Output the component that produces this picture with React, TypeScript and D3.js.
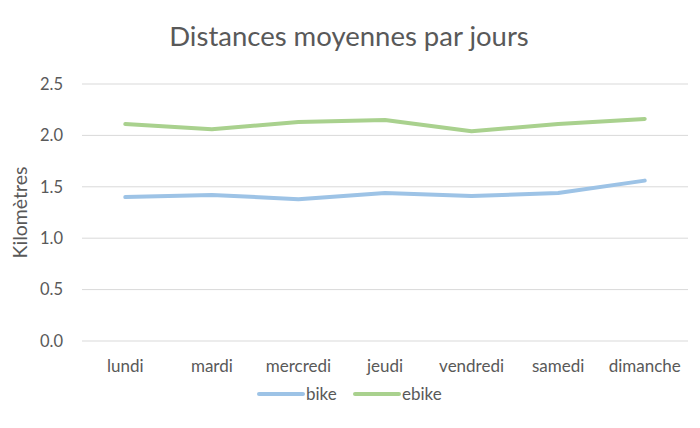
import React, { useEffect, useRef } from 'react';
import * as d3 from 'd3';

const days = ['lundi', 'mardi', 'mercredi', 'jeudi', 'vendredi', 'samedi', 'dimanche'];
const bike = [1.4, 1.42, 1.38, 1.44, 1.41, 1.44, 1.56];
const ebike = [2.11, 2.06, 2.13, 2.15, 2.04, 2.11, 2.16];
const yTicks = [0, 0.5, 1, 1.5, 2, 2.5];
const seriesNames = ['bike', 'ebike'];
const seriesColors = ['#9dc3e6', '#a9d18e'];

const App: React.FC = () => {
  const svgRef = useRef<SVGSVGElement | null>(null);

  useEffect(() => {
    if (!svgRef.current) return;

    const width = 700;
    const height = 428;
    const margin = { top: 84, right: 12, bottom: 87, left: 82 };
    const font = 'Lato, "Open Sans", sans-serif';

    const svg = d3.select(svgRef.current);
    svg.selectAll('*').remove();

    svg.append('rect').attr('width', width).attr('height', height).attr('fill', '#fff');

    const xScale = d3
      .scaleBand()
      .domain(days)
      .range([margin.left, width - margin.right]);

    const yScale = d3
      .scaleLinear()
      .domain([0, 2.5])
      .range([height - margin.bottom, margin.top]);

    // gridlines
    svg
      .append('g')
      .selectAll('line')
      .data(yTicks)
      .enter()
      .append('line')
      .attr('x1', margin.left)
      .attr('x2', width - margin.right)
      .attr('y1', (d) => yScale(d))
      .attr('y2', (d) => yScale(d))
      .attr('stroke', '#d9d9d9')
      .attr('stroke-width', 1);

    // y tick labels
    svg
      .append('g')
      .selectAll('text')
      .data(yTicks)
      .enter()
      .append('text')
      .attr('x', 63)
      .attr('y', (d) => yScale(d))
      .attr('dy', '0.35em')
      .attr('text-anchor', 'end')
      .attr('font-family', font)
      .attr('font-size', 16.5)
      .attr('fill', '#595959')
      .text((d) => d.toFixed(1));

    // x labels
    svg
      .append('g')
      .selectAll('text')
      .data(days)
      .enter()
      .append('text')
      .attr('x', (d) => xScale(d)! + xScale.bandwidth() / 2)
      .attr('y', 372)
      .attr('text-anchor', 'middle')
      .attr('font-family', font)
      .attr('font-size', 17)
      .attr('fill', '#595959')
      .text((d) => d);

    const line = d3
      .line<number>()
      .x((d, i) => xScale(days[i])! + xScale.bandwidth() / 2)
      .y((d) => yScale(d));

    [bike, ebike].forEach((vals, i) => {
      svg
        .append('path')
        .datum(vals)
        .attr('d', line)
        .attr('fill', 'none')
        .attr('stroke', seriesColors[i])
        .attr('stroke-width', 4)
        .attr('stroke-linecap', 'round')
        .attr('stroke-linejoin', 'round');
    });

    // title
    svg
      .append('text')
      .attr('x', 349)
      .attr('y', 46)
      .attr('text-anchor', 'middle')
      .attr('font-family', font)
      .attr('font-size', 27.5)
      .attr('fill', '#595959')
      .text('Distances moyennes par jours');

    // y axis title
    svg
      .append('text')
      .attr('transform', `translate(27, ${(margin.top + height - margin.bottom) / 2}) rotate(-90)`)
      .attr('text-anchor', 'middle')
      .attr('font-family', font)
      .attr('font-size', 19.5)
      .attr('fill', '#595959')
      .text('Kilomètres');

    // legend
    const legendX = [259, 355];
    const legend = svg
      .append('g')
      .selectAll('g')
      .data(seriesNames)
      .enter()
      .append('g')
      .attr('transform', (d, i) => `translate(${legendX[i]}, 394)`);

    legend
      .append('line')
      .attr('x1', 0)
      .attr('x2', 44)
      .attr('stroke', (d, i) => seriesColors[i])
      .attr('stroke-width', 4)
      .attr('stroke-linecap', 'round');

    legend
      .append('text')
      .attr('x', 47)
      .attr('dy', '0.35em')
      .attr('font-family', font)
      .attr('font-size', 17)
      .attr('fill', '#595959')
      .text((d) => d);
  }, []);

  return (
    <svg
      ref={svgRef}
      width={700}
      height={428}
      style={{ position: 'absolute', left: 0, top: 0 }}
    ></svg>
  );
};

export default App;
